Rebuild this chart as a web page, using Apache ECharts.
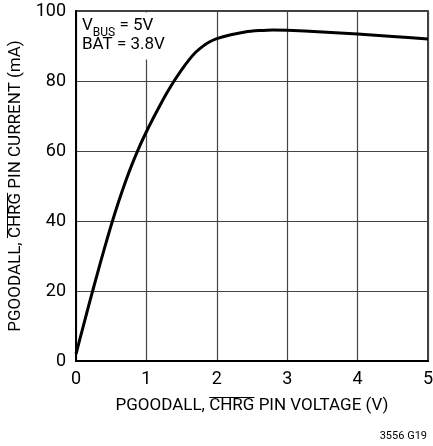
<!DOCTYPE html>
<html>
<head>
<meta charset="utf-8">
<script src="https://cdn.jsdelivr.net/npm/echarts@6/dist/echarts.min.js"></script>
<style>html,body{margin:0;padding:0;background:#fff;}#c{width:433px;height:446px;}</style>
</head>
<body>
<div id="c"></div>
<script>
var voltage = [0, 0.1, 0.2, 0.3, 0.4, 0.5, 0.6, 0.7, 0.8, 0.9, 1.0, 1.1, 1.2, 1.3, 1.4, 1.5, 1.6, 1.7, 1.8, 1.9, 2.0, 2.2, 2.4, 2.6, 2.8, 3.0, 3.5, 4.0, 4.5, 5.0];
var current = [2, 9.7, 17.3, 24.7, 31.9, 38.8, 45.2, 51.1, 56.4, 61.2, 65.5, 69.5, 73.3, 76.9, 80.2, 83.2, 85.9, 88.2, 89.9, 91.2, 92.1, 93.2, 94.0, 94.4, 94.6, 94.5, 94.0, 93.4, 92.7, 92.0];
var xTicks = [0, 1, 2, 3, 4, 5];
var yTicks = [0, 20, 40, 60, 80, 100];
var xTitleParts = ['PGOODALL, ', 'CHRG', ' PIN VOLTAGE (V)'];
var yTitleParts = ['PGOODALL, ', 'CHRG', ' PIN CURRENT (mA)'];
var note1 = ['V', 'BUS', ' = 5V'];
var note2 = 'BAT = 3.8V';
var code = '3556 G19';

var FONT = 'Roboto, sans-serif';
var TITLE_SIZE = 17;
var G = {left: 76, right: 5, top: 11, bottom: 85};
var W = 433, H = 446;
var X_GAP = 36, Y_GAP = 52;

var ctx = document.createElement('canvas').getContext('2d');
ctx.font = TITLE_SIZE + 'px Roboto';
function tw(s) { return ctx.measureText(s).width; }

var plotL = G.left, plotR = W - G.right, plotT = G.top, plotB = H - G.bottom;
var cx = (plotL + plotR) / 2, cy = (plotT + plotB) / 2;
var xTitle = xTitleParts.join(''), yTitle = yTitleParts.join('');
var xs = cx - tw(xTitle) / 2 + tw(xTitleParts[0]);
var xe = xs + tw(xTitleParts[1]);
var ys = cy + tw(yTitle) / 2 - tw(yTitleParts[0]);
var ye = ys - tw(yTitleParts[1]);

var chart = echarts.init(document.getElementById('c'), null, {renderer: 'canvas'});
var pts = voltage.map(function (v, i) { return [v, current[i]]; });
chart.setOption({
  animation: false,
  backgroundColor: '#fff',
  grid: {left: G.left, right: G.right, top: G.top, bottom: G.bottom, outerBoundsMode: 'none', containLabel: false,
         show: true, borderColor: '#000', borderWidth: 1.5, backgroundColor: 'transparent'},
  xAxis: {
    type: 'value', min: xTicks[0], max: xTicks[xTicks.length - 1], interval: 1,
    name: xTitle, nameLocation: 'middle', nameGap: X_GAP,
    nameTextStyle: {fontFamily: FONT, fontSize: TITLE_SIZE, color: '#000'},
    axisLine: {show: true, lineStyle: {color: '#000', width: 2}},
    axisTick: {show: false},
    axisLabel: {fontFamily: FONT, fontSize: 18, color: '#000', margin: 9},
    splitLine: {show: true, lineStyle: {color: '#444', width: 1.2}}
  },
  yAxis: {
    type: 'value', min: yTicks[0], max: yTicks[yTicks.length - 1], interval: 20,
    name: yTitle, nameLocation: 'middle', nameGap: Y_GAP,
    nameTextStyle: {fontFamily: FONT, fontSize: TITLE_SIZE, color: '#000'},
    axisLine: {show: true, lineStyle: {color: '#000', width: 2}},
    axisTick: {show: false},
    axisLabel: {fontFamily: FONT, fontSize: 18, color: '#000', margin: 10},
    splitLine: {show: true, lineStyle: {color: '#444', width: 1.2}}
  },
  series: [{
    type: 'line', data: pts, smooth: 0.3, showSymbol: false,
    lineStyle: {color: '#000', width: 3}, z: 5
  }],
  graphic: [
    {type: 'rect', left: 78, top: 12.5, shape: {width: 74, height: 47}, style: {fill: '#fff'}, z: 3},
    {type: 'text', left: 82, top: 17, z: 4, style: {
      text: '{a|' + note1[0] + '}{s|' + note1[1] + '}{a|' + note1[2] + '}',
      rich: {
        a: {fontFamily: FONT, fontSize: 17, fill: '#000', lineHeight: 20, verticalAlign: 'middle'},
        s: {fontFamily: FONT, fontSize: 12, fill: '#000', lineHeight: 27, verticalAlign: 'bottom'}
      }
    }},
    {type: 'text', left: 82, top: 36, z: 4, style: {text: note2, fontFamily: FONT, fontSize: 17, fill: '#000'}},
    {type: 'text', right: 6, top: 431, style: {text: code, fontFamily: FONT, fontSize: 11, fill: '#000'}},
    {type: 'line', shape: {x1: xs, y1: plotB + X_GAP + 0.5, x2: xe, y2: plotB + X_GAP + 0.5}, style: {stroke: '#000', lineWidth: 1}},
    {type: 'line', shape: {x1: plotL - Y_GAP - 16.5, y1: ys, x2: plotL - Y_GAP - 16.5, y2: ye}, style: {stroke: '#000', lineWidth: 1}}
  ]
});
</script>
</body>
</html>
